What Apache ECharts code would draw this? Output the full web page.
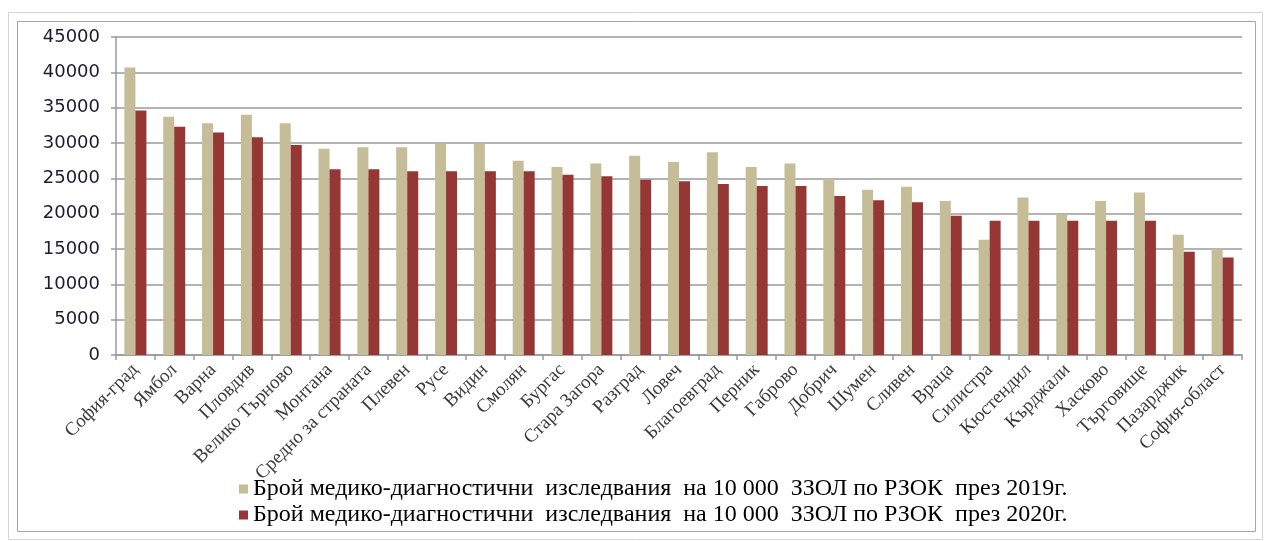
<!DOCTYPE html>
<html>
<head>
<meta charset="utf-8">
<script src="https://cdn.jsdelivr.net/npm/echarts@6/dist/echarts.min.js"></script>
<style>
  html, body { margin: 0; padding: 0; background: #fff; }
  #chart { width: 1265px; height: 541px; }
</style>
</head>
<body>
<div id="chart"></div>
<script>
// Регионални здравноосигурителни каси (РЗОК)
const categories = ['София-град', 'Ямбол', 'Варна', 'Пловдив', 'Велико Търново', 'Монтана',
  'Средно за страната', 'Плевен', 'Русе', 'Видин', 'Смолян', 'Бургас', 'Стара Загора',
  'Разград', 'Ловеч', 'Благоевград', 'Перник', 'Габрово', 'Добрич', 'Шумен', 'Сливен',
  'Враца', 'Силистра', 'Кюстендил', 'Кърджали', 'Хасково', 'Търговище', 'Пазарджик',
  'София-област'];

// Брой изследвания на 10 000 ЗЗОЛ
const values2019 = [40700, 33700, 32800, 34000, 32800, 29200, 29400, 29400, 29900, 29900,
  27500, 26600, 27100, 28200, 27300, 28700, 26600, 27100, 24900, 23400, 23800, 21800,
  16300, 22300, 19900, 21800, 23000, 17000, 15000];
const values2020 = [34600, 32300, 31500, 30800, 29700, 26300, 26300, 26000, 26000, 26000,
  26000, 25500, 25300, 24800, 24600, 24200, 23900, 23900, 22500, 21900, 21600, 19700,
  19000, 19000, 19000, 19000, 19000, 14600, 13800];

const seriesNames = [
  'Брой медико-диагностични  изследвания  на 10 000  ЗЗОЛ по РЗОК  през 2019г.',
  'Брой медико-диагностични  изследвания  на 10 000  ЗЗОЛ по РЗОК  през 2020г.'
];

const yTicks = { min: 0, max: 45000, interval: 5000 };

const chart = echarts.init(document.getElementById('chart'), null, { renderer: 'canvas' });

const gridColor = '#9a9a9a';

chart.setOption({
  backgroundColor: '#ffffff',
  animation: false,
  graphic: [
    {
      type: 'rect', silent: true, z: -10,
      shape: { x: 8.5, y: 12.5, width: 1254, height: 527 },
      style: { fill: 'none', stroke: '#d4d4d4', lineWidth: 1 }
    },
    {
      type: 'rect', silent: true, z: -9,
      shape: { x: 17.5, y: 21.5, width: 1238, height: 510 },
      style: { fill: 'none', stroke: '#a6a6a6', lineWidth: 1 }
    }
  ],
  grid: { left: 116, right: 23, top: 37, bottom: 186, containLabel: false },
  legend: {
    orient: 'vertical',
    left: 234,
    top: 472,
    itemWidth: 9,
    itemHeight: 9,
    itemGap: 2,
    icon: 'rect',
    textStyle: { fontFamily: '"Liberation Serif", serif', fontSize: 24, color: '#000' },
    data: seriesNames
  },
  xAxis: {
    type: 'category',
    data: categories,
    boundaryGap: true,
    axisLine: { lineStyle: { color: gridColor, width: 1.5 } },
    axisTick: { show: true, alignWithLabel: false, length: 5, lineStyle: { color: gridColor, width: 1.5 } },
    axisLabel: {
      interval: 0,
      rotate: 45,
      margin: 12,
      fontFamily: '"Liberation Serif", serif',
      fontSize: 19,
      color: '#3a3a3a'
    }
  },
  yAxis: {
    type: 'value',
    min: yTicks.min,
    max: yTicks.max,
    interval: yTicks.interval,
    axisLine: { show: true, lineStyle: { color: gridColor, width: 1.5 } },
    axisTick: { show: true, length: 5, lineStyle: { color: gridColor, width: 1.5 } },
    splitLine: { show: true, lineStyle: { color: gridColor, width: 1.5 } },
    axisLabel: {
      margin: 16,
      fontFamily: '"DejaVu Sans", sans-serif',
      fontSize: 18,
      color: '#1c1c30',
      formatter: v => String(v)
    }
  },
  series: [
    {
      name: seriesNames[0],
      type: 'bar',
      data: values2019,
      barWidth: 11,
      barGap: '0%',
      itemStyle: { color: '#c4bd97' }
    },
    {
      name: seriesNames[1],
      type: 'bar',
      data: values2020,
      barWidth: 11,
      barGap: '0%',
      itemStyle: { color: '#953735' }
    }
  ]
});
</script>
</body>
</html>
